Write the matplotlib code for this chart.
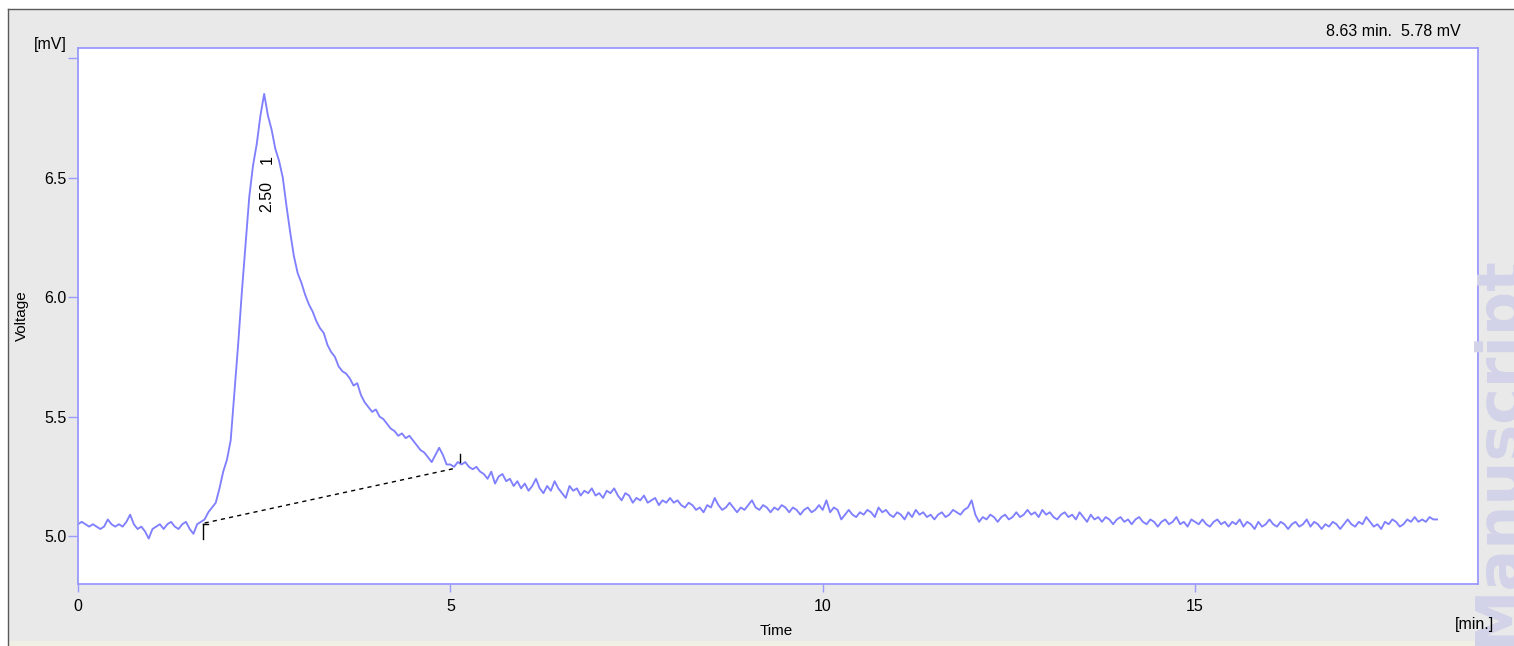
import numpy as np
import matplotlib
matplotlib.use('Agg')
import matplotlib.pyplot as plt
from matplotlib.patches import Rectangle
from matplotlib.lines import Line2D

W, H = 1514, 646
plt.rcParams['font.family'] = ['Liberation Sans', 'DejaVu Sans']

# detector trace [mV], one reading every 0.05 min from t = 0
dt = 0.05
voltage = [
    5.05, 5.06, 5.05, 5.04, 5.05, 5.04, 5.03, 5.04, 5.07, 5.05, 5.04, 5.05, 5.04, 5.06, 5.09, 5.05, 5.03, 5.04, 5.02, 4.99,
    5.03, 5.04, 5.05, 5.03, 5.05, 5.06, 5.04, 5.03, 5.05, 5.06, 5.03, 5.01, 5.05, 5.06, 5.07, 5.10, 5.12, 5.14, 5.20, 5.27,
    5.32, 5.40, 5.60, 5.80, 6.02, 6.22, 6.42, 6.55, 6.64, 6.76, 6.85, 6.76, 6.70, 6.62, 6.57, 6.50, 6.38, 6.27, 6.17, 6.10,
    6.06, 6.01, 5.97, 5.94, 5.90, 5.87, 5.85, 5.80, 5.77, 5.75, 5.71, 5.69, 5.68, 5.66, 5.63, 5.64, 5.59, 5.56, 5.54, 5.52,
    5.53, 5.50, 5.49, 5.47, 5.45, 5.44, 5.42, 5.43, 5.41, 5.42, 5.40, 5.38, 5.36, 5.35, 5.33, 5.31, 5.34, 5.37, 5.34, 5.30,
    5.30, 5.29, 5.31, 5.30, 5.31, 5.29, 5.28, 5.29, 5.27, 5.26, 5.24, 5.27, 5.22, 5.25, 5.26, 5.23, 5.24, 5.21, 5.23, 5.20,
    5.22, 5.19, 5.21, 5.24, 5.20, 5.18, 5.21, 5.19, 5.23, 5.20, 5.18, 5.16, 5.21, 5.19, 5.20, 5.17, 5.19, 5.18, 5.20, 5.17,
    5.18, 5.16, 5.19, 5.18, 5.20, 5.17, 5.15, 5.18, 5.17, 5.14, 5.16, 5.15, 5.17, 5.14, 5.15, 5.16, 5.13, 5.15, 5.14, 5.16,
    5.14, 5.15, 5.13, 5.12, 5.14, 5.13, 5.11, 5.12, 5.10, 5.13, 5.12, 5.16, 5.13, 5.11, 5.12, 5.14, 5.12, 5.10, 5.12, 5.11,
    5.13, 5.15, 5.12, 5.11, 5.13, 5.12, 5.10, 5.12, 5.11, 5.13, 5.12, 5.10, 5.12, 5.11, 5.09, 5.11, 5.12, 5.10, 5.11, 5.13,
    5.11, 5.15, 5.10, 5.12, 5.11, 5.07, 5.09, 5.11, 5.09, 5.08, 5.10, 5.09, 5.11, 5.10, 5.08, 5.12, 5.10, 5.11, 5.09, 5.08,
    5.10, 5.09, 5.07, 5.10, 5.08, 5.11, 5.09, 5.10, 5.08, 5.09, 5.07, 5.09, 5.10, 5.08, 5.09, 5.11, 5.10, 5.09, 5.11, 5.12,
    5.15, 5.09, 5.06, 5.08, 5.07, 5.09, 5.08, 5.06, 5.08, 5.09, 5.07, 5.08, 5.10, 5.08, 5.09, 5.11, 5.09, 5.10, 5.08, 5.11,
    5.09, 5.10, 5.08, 5.07, 5.09, 5.10, 5.08, 5.09, 5.07, 5.10, 5.08, 5.06, 5.09, 5.07, 5.08, 5.06, 5.08, 5.07, 5.05, 5.07,
    5.08, 5.06, 5.07, 5.05, 5.07, 5.08, 5.06, 5.05, 5.07, 5.06, 5.04, 5.06, 5.07, 5.05, 5.06, 5.08, 5.05, 5.06, 5.04, 5.07,
    5.06, 5.05, 5.07, 5.05, 5.04, 5.06, 5.07, 5.05, 5.06, 5.04, 5.06, 5.05, 5.07, 5.04, 5.06, 5.05, 5.03, 5.06, 5.04, 5.05,
    5.07, 5.05, 5.04, 5.06, 5.05, 5.03, 5.05, 5.06, 5.04, 5.05, 5.07, 5.04, 5.06, 5.05, 5.03, 5.05, 5.04, 5.06, 5.05, 5.03,
    5.05, 5.07, 5.05, 5.04, 5.06, 5.05, 5.08, 5.06, 5.04, 5.05, 5.03, 5.06, 5.05, 5.07, 5.06, 5.04, 5.05, 5.07, 5.06, 5.08,
    5.06, 5.07, 5.06, 5.08, 5.07, 5.07,
]
time_min = dt * np.arange(len(voltage))

# integration baseline of peak 1
base_t = [1.70, 5.08]
base_v = [5.055, 5.285]
start_mark_t, start_mark_v = 1.68, [4.99, 5.05]
end_mark_t, end_mark_v = 5.13, [5.31, 5.345]

peak_rt = '2.50'
peak_no = '1'
peak_label_t = 2.54
cursor_text = '8.63 min.  5.78 mV'

x_ticks = [0, 5, 10, 15]
y_ticks = [5.0, 5.5, 6.0, 6.5, 7.0]
y_ticklabels = ['5.0', '5.5', '6.0', '6.5', '']

TRACE = '#8080ff'
FRAME = '#9a9aff'

fig = plt.figure(figsize=(W / 100, H / 100), dpi=100, facecolor='white')

# window panel
fig.add_artist(Rectangle((8 / W, 5 / H), (W - 8) / W, (H - 9 - 5) / H,
                         transform=fig.transFigure, facecolor='#e9e9e9', edgecolor='none', zorder=0))
fig.add_artist(Rectangle((8 / W, 0), (W - 8) / W, 5 / H,
                         transform=fig.transFigure, facecolor='#f1f0e4', edgecolor='none', zorder=0))
fig.add_artist(Line2D([8 / W, 1], [1 - 9 / H, 1 - 9 / H], transform=fig.transFigure, color='#5a5a5a', lw=1.0))
fig.add_artist(Line2D([8 / W, 8 / W], [0, 1 - 9 / H], transform=fig.transFigure, color='#5a5a5a', lw=1.0))

ax = fig.add_axes([78 / W, 1 - 584 / H, (1478 - 78) / W, (584 - 48) / H])
ax.set_facecolor('white')
ax.plot(time_min, voltage, color=TRACE, lw=1.35)
ax.plot(base_t, base_v, color='black', lw=1.0, ls=(0, (3, 3)))
ax.plot([start_mark_t, start_mark_t], start_mark_v, color='black', lw=1.0)
ax.plot([start_mark_t, start_mark_t + 0.06], [start_mark_v[1]] * 2, color='black', lw=1.0)
ax.plot([end_mark_t, end_mark_t], end_mark_v, color='black', lw=1.0)

ax.text(peak_label_t, 6.42, peak_rt, rotation=90, ha='center', va='center', fontsize=11.5)
ax.text(peak_label_t, 6.575, peak_no, rotation=90, ha='center', va='center', fontsize=11.5)

ax.set_xlim(0, 18.80)
ax.set_ylim(4.80, 7.042)
ax.set_xticks(x_ticks)
ax.set_yticks(y_ticks)
ax.set_yticklabels(y_ticklabels)
for s in ax.spines.values():
    s.set_color(FRAME)
    s.set_linewidth(1.3)
ax.tick_params(axis='y', direction='out', length=7, width=1.0, color=FRAME, pad=1, labelsize=11.5)
ax.tick_params(axis='x', direction='out', length=5.5, width=1.0, color=FRAME, pad=5, labelsize=11.5)

# faint watermark along the right edge
fig.text(1529 / W, 0, 'Manuscript', rotation=90, ha='right', va='bottom',
         family='DejaVu Sans', fontweight='bold', fontsize=44.6, color='#d2d2e8', zorder=5)

fig.text(50 / W, 1 - 44 / H, '[mV]', ha='center', va='center', fontsize=11.5)
fig.text(1475 / W, 1 - 625 / H, '[min.]', ha='center', va='center', fontsize=11.5, zorder=10)
fig.text(776 / W, 1 - 631 / H, 'Time', ha='center', va='center', fontsize=11)
fig.text(22 / W, 1 - 316 / H, 'Voltage', ha='center', va='center', rotation=90, fontsize=11)
fig.text(1461 / W, 1 - 32 / H, cursor_text, ha='right', va='center', fontsize=11.5)

fig.savefig('out.png', dpi=100, facecolor=fig.get_facecolor())
